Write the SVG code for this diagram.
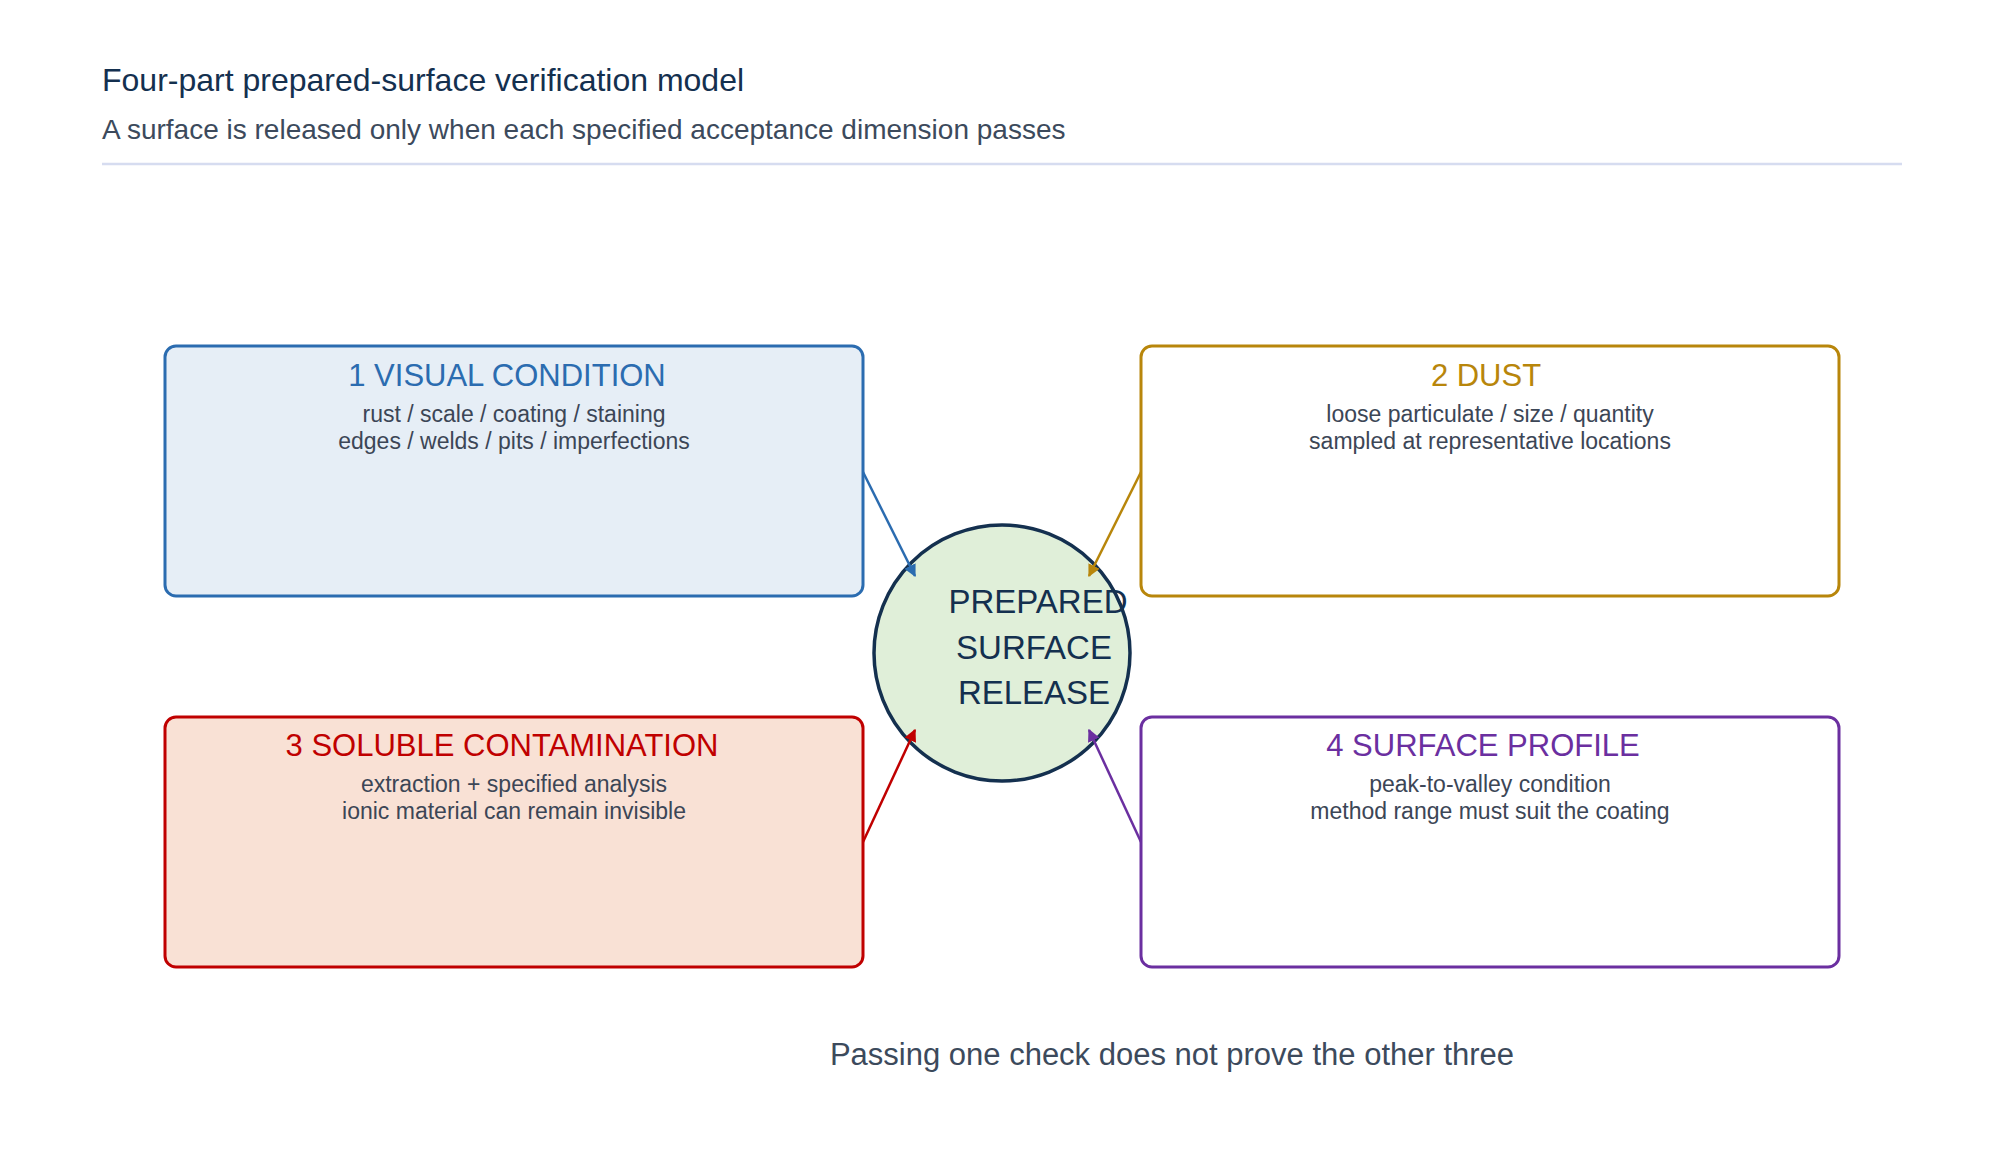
<svg xmlns="http://www.w3.org/2000/svg" width="1994" height="1161" viewBox="0 0 1994 1161">
<style>
text{font-family:"Liberation Sans",Arial,sans-serif}
.t{font-size:23px;fill:#3c4656;text-anchor:middle}
.h{font-size:31px;text-anchor:middle}
.box{stroke-width:3}
.c{stroke-width:2.5;fill:none}
</style>
<defs>
<marker id="mb" viewBox="0 0 10 10" refX="9" refY="5" markerWidth="5" markerHeight="5" orient="auto"><path d="M0 0L10 5L0 10z" fill="#2b6cb0"/></marker>
<marker id="mg" viewBox="0 0 10 10" refX="9" refY="5" markerWidth="5" markerHeight="5" orient="auto"><path d="M0 0L10 5L0 10z" fill="#b8860b"/></marker>
<marker id="mr" viewBox="0 0 10 10" refX="9" refY="5" markerWidth="5" markerHeight="5" orient="auto"><path d="M0 0L10 5L0 10z" fill="#c00000"/></marker>
<marker id="mp" viewBox="0 0 10 10" refX="9" refY="5" markerWidth="5" markerHeight="5" orient="auto"><path d="M0 0L10 5L0 10z" fill="#6b2fa0"/></marker>
</defs>
<rect width="1994" height="1161" fill="#fff"/>
<text x="102" y="91" font-size="32" fill="#14304f">Four-part prepared-surface verification model</text>
<text x="102" y="139" font-size="28" fill="#3c4a5c">A surface is released only when each specified acceptance dimension passes</text>
<line x1="102" y1="164" x2="1902" y2="164" stroke="#d6dcf0" stroke-width="2.5"/>
<g id="n1"><rect class="box" x="165" y="346" width="698" height="250" rx="11" fill="#e6eef6" stroke="#2b6cb0"/>
<text class="h" x="507" y="386" fill="#2b6cb0">1 VISUAL CONDITION</text>
<text class="t" x="514" y="422">rust / scale / coating / staining</text>
<text class="t" x="514" y="449">edges / welds / pits / imperfections</text></g>
<g id="n2"><rect class="box" x="1141" y="346" width="698" height="250" rx="11" fill="#fff" stroke="#b8860b"/>
<text class="h" x="1486" y="386" fill="#b8860b">2 DUST</text>
<text class="t" x="1490" y="422">loose particulate / size / quantity</text>
<text class="t" x="1490" y="449">sampled at representative locations</text></g>
<g id="n3"><rect class="box" x="165" y="717" width="698" height="250" rx="11" fill="#f9e1d5" stroke="#c00000"/>
<text class="h" x="502" y="756" fill="#c00000">3 SOLUBLE CONTAMINATION</text>
<text class="t" x="514" y="792">extraction + specified analysis</text>
<text class="t" x="514" y="819">ionic material can remain invisible</text></g>
<g id="n4"><rect class="box" x="1141" y="717" width="698" height="250" rx="11" fill="#fff" stroke="#6b2fa0"/>
<text class="h" x="1483" y="756" fill="#6b2fa0">4 SURFACE PROFILE</text>
<text class="t" x="1490" y="792">peak-to-valley condition</text>
<text class="t" x="1490" y="819">method range must suit the coating</text></g>
<g id="center"><circle cx="1002" cy="653" r="128" fill="#e0efd9" stroke="#14304f" stroke-width="3.5"/>
<text x="1038" y="613" font-size="33" fill="#14304f" text-anchor="middle">PREPARED</text>
<text x="1034" y="659" font-size="33" fill="#14304f" text-anchor="middle">SURFACE</text>
<text x="1034" y="704" font-size="33" fill="#14304f" text-anchor="middle">RELEASE</text></g>
<g id="connectors">
<line class="c" x1="863" y1="472" x2="915" y2="576" stroke="#2b6cb0" marker-end="url(#mb)"/>
<line class="c" x1="1141" y1="472" x2="1089" y2="576" stroke="#b8860b" marker-end="url(#mg)"/>
<line class="c" x1="863" y1="842" x2="915" y2="730" stroke="#c00000" marker-end="url(#mr)"/>
<line class="c" x1="1141" y1="842" x2="1089" y2="730" stroke="#6b2fa0" marker-end="url(#mp)"/>
</g>
<text x="1172" y="1065" font-size="31" fill="#3c4a5c" text-anchor="middle">Passing one check does not prove the other three</text>
</svg>
